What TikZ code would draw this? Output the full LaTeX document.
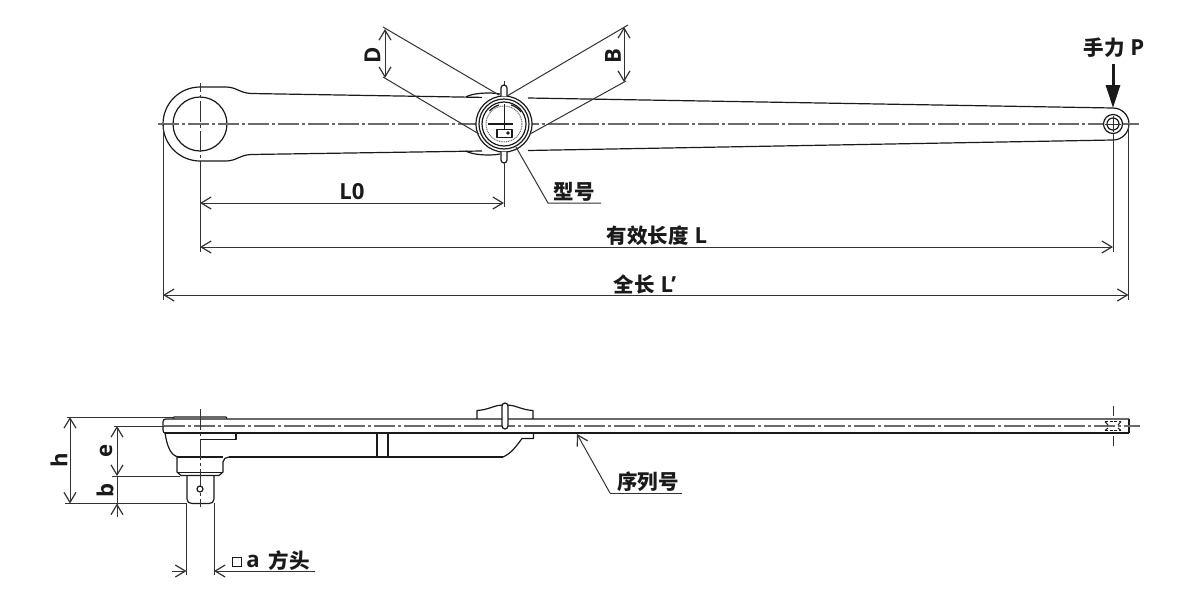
\documentclass[tikz,border=0pt]{standalone}
\usepackage{fontspec}
\setmainfont{Open Sans}[Scale=1.08]
\newfontfamily\cjk{Noto Sans CJK SC}
\usetikzlibrary{arrows.meta}
\definecolor{ink}{HTML}{1A1A1A}
\definecolor{thin}{HTML}{333333}
\definecolor{cen}{HTML}{6A6A6A}
\tikzset{
  x=1pt,y=-1pt,
  outline/.style={draw=ink,line width=1.2pt,line join=round},
  heavy/.style={draw=ink,line width=1.7pt},
  dimline/.style={draw=thin,line width=1pt},
  barb/.tip={Straight Barb[length=10pt,width=12pt,line width=1.2pt]},
  dimarrow/.style={dimline,{barb}-{barb}},
  onearrow/.style={dimline,-{barb}},
  centerl/.style={draw=cen,line width=1.3pt,dash pattern=on 21pt off 3pt on 3pt off 3pt},
  centerv/.style={draw=thin,line width=1pt,dash pattern=on 21pt off 3pt on 3pt off 3pt},
  lab/.style={font=\fontsize{20.5}{23}\selectfont\bfseries,text=ink,inner sep=0pt},
}
\begin{document}
\begin{tikzpicture}
\useasboundingbox (0,0) rectangle (1200,600);
\fill[white] (0,0) rectangle (1200,600);

% ---------- top view: handle
\draw[outline] (200,87) -- (226,87) .. controls (236,87) and (240,93) .. (251,93.5)
  -- (482,97.4) (528,98) -- (1113,108)
  arc[start angle=-90,end angle=90,radius=16] -- (528,150.5)
  (482,151) -- (251,154.5) .. controls (240,155) and (236,161) .. (226,161) -- (200,161)
  arc[start angle=90,end angle=270,radius=37];
\draw[outline] (200,124) circle[radius=27];
% bulges behind the gauge
\draw[outline] (466,97) .. controls (472,93) and (490,92) .. (500,94);
\draw[outline] (466,151) .. controls (472,155) and (490,156) .. (500,154);
% centre lines
\draw[centerl] (158,124) -- (1140,124);
\draw[centerv,dash phase=12pt] (200,83) -- (200,162);
\draw[dimline] (200,161) -- (200,252);
\draw[dimline] (1113,124) -- (1113,252);
\draw[outline,fill=white] (1113,124) circle[radius=9.5];
\draw[outline] (1113,124) circle[radius=6];
\draw[dimline] (1105,124) -- (1121,124) (1113,116) -- (1113,132);
% gauge
\fill[white] (504,124) circle[radius=28];
\draw[outline] (504,124) circle[radius=28];
\draw[outline] (504,124) circle[radius=25];
\draw[outline] (504,124) circle[radius=22];
\draw[draw=cen,line width=1pt,dash pattern=on 1pt off .8pt] (504,124) circle[radius=18];
\draw[outline] (489.5,111) .. controls (492,108) and (496,106) .. (499,105);
\draw[outline] (511,105) .. controls (515,106) and (519,109) .. (521,112);
\draw[draw=ink,line width=1.6pt] (488,124) -- (513,124);
\draw[draw=ink,line width=1pt] (504,104) -- (504,132);
\draw[outline,fill=white] (497,129.5) rectangle (512,137.5);
\fill[ink] (508,133) circle[radius=1.8];
% gauge tabs
\draw[outline,fill=white] (501,96) -- (501,88) arc[start angle=180,end angle=360,radius=3] -- (507,96);
\draw[outline,fill=white] (501,152) -- (501,160) arc[start angle=180,end angle=0,radius=3] -- (507,152);
\draw[dimline] (504,81) -- (504,85);
\draw[dimline] (504,163) -- (504,207);
% angle lines
\draw[dimline] (383,27) -- (499,95);
\draw[dimline] (383,77) -- (479,134);
\draw[dimline] (628,25) -- (507,96);
\draw[dimline] (626,81) -- (530,134);
\draw[dimarrow] (385,29) -- (385,78);
\draw[dimarrow] (624,27) -- (624,82);
\node[lab,rotate=90] (labD) at (372.5,55) {D};
\node[lab,rotate=90] (labB) at (613,56) {B};
% model leader
\draw[dimline] (516,147) -- (548,203) -- (601,203);
\node[lab] (labModel) at (574,192) {\cjk\bfseries 型号};
% hand force
\node[lab] (labP) at (1114,48) {{\cjk\bfseries 手力} P};
\draw[draw=ink,line width=3pt,-{Triangle[length=23pt,width=14pt]}] (1113,64) -- (1113,108);
% top dimensions
\draw[dimline] (163,124) -- (163,300);
\draw[dimline] (1128.5,124) -- (1128.5,300);
\draw[dimarrow] (200,203) -- (504,203);
\draw[dimarrow] (200,247) -- (1113,247);
\draw[dimarrow] (163,295) -- (1128.5,295);
\node[lab] (labL0) at (352,192) {L0};
\node[lab] (labL) at (657,236) {{\cjk\bfseries 有效长度} L};
\node[lab] (labLp) at (645,284) {{\cjk\bfseries 全长} L'};

% ---------- side view
\draw[outline] (173,418.5) -- (174,417) -- (226,417) -- (227,418.5);
\draw[outline] (1129,419) -- (166,419) .. controls (164,419) and (163,420) .. (163,422) -- (163,430) .. controls (163,432) and (164,433) .. (165,433);
\draw[heavy] (165,433) -- (1129,433);
\draw[outline] (1129,419) -- (1129,433);
\draw[outline] (165,433) .. controls (167,445) and (170,456) .. (179,457);
\draw[heavy] (177,457) -- (223,457) ;
\draw[heavy] (229,457) -- (503,457);
\draw[outline] (177,457) -- (177,472) -- (181,475.5) -- (219,475.5) -- (223,472) -- (223,462) .. controls (223,459) and (226,457) .. (229,457);
\draw[outline] (177,472.5) -- (223,472.5);
\draw[outline] (187,476) -- (187,499) .. controls (187,502) and (189,503.5) .. (192,503.5) -- (209,503.5) .. controls (212,503.5) and (214,502) .. (214,499) -- (214,476);
\draw[outline] (236,433) -- (236,439.5) -- (200,439.5);
\draw[outline] (377,433) -- (377,457);
\draw[outline] (388,433) -- (388,457);
\draw[outline] (503,457) .. controls (512,453) and (517,445) .. (522,438.5) -- (533.5,438.5) -- (533.5,433);
% knob
\draw[outline] (477,419) -- (477,410.5) .. controls (488,410) and (495,405) .. (502,405);
\draw[outline] (508,405) .. controls (515,405) and (522,410) .. (533,410.5) -- (533,419);
% centre lines
\draw[centerl] (164,426) -- (1140,426);
\draw[outline,fill=white] (502,426) -- (502,406) arc[start angle=180,end angle=360,radius=3] -- (508,426) arc[start angle=0,end angle=180,radius=3] -- cycle;
\draw[centerv] (200,409) -- (200,507);
\draw[outline,fill=white] (200,489) circle[radius=3];
\draw[dimline] (1113,406) -- (1113,416) (1113,436) -- (1113,446);
% threaded tip
\draw[draw=ink,line width=1pt,dash pattern=on 3pt off 1.5pt] (1105,421.5) -- (1121,421.5) (1105,430.5) -- (1121,430.5);
\draw[draw=ink,line width=1pt] (1105,421.5) -- (1108,425) (1121,421.5) -- (1118,425) (1105,430.5) -- (1108,428) (1121,430.5) -- (1118,428);
% side dimensions
\draw[dimline] (67,417) -- (173,417);
\draw[dimline] (65,503.5) -- (187,503.5);
\draw[dimline] (114,426) -- (164,426);
\draw[dimline] (112,476) -- (180,476);
\draw[dimarrow] (70,417) -- (70,503.5);
\draw[dimarrow] (117,426) -- (117,476);
\draw[dimline] (117,476) -- (117,517);
\draw[onearrow] (117,517) -- (117,503.5);
\node[lab,rotate=90] (labh) at (59,460) {h};
\node[lab,rotate=90] (labe) at (106,451) {e};
\node[lab,rotate=90] (labb) at (105,490) {b};
% square width
\draw[dimline] (186.5,503) -- (186.5,575);
\draw[dimline] (214,503) -- (214,575);
\draw[onearrow] (172,571) -- (186.5,571);
\draw[onearrow] (315,571) -- (214,571);
\node[draw=ink,line width=.8pt,minimum size=9pt,inner sep=0pt] (labsq) at (237,561.5) {};
\node[lab] (laba) at (253,561) {a};
\node[lab] (labhd) at (289,561) {\cjk\bfseries 方头};
% serial number leader
\draw[onearrow] (610,493) -- (577,434);
\draw[dimline] (610,493) -- (682,493);
\node[lab] (labSer) at (648,482) {\cjk\bfseries 序列号};
\end{tikzpicture}
\end{document}
